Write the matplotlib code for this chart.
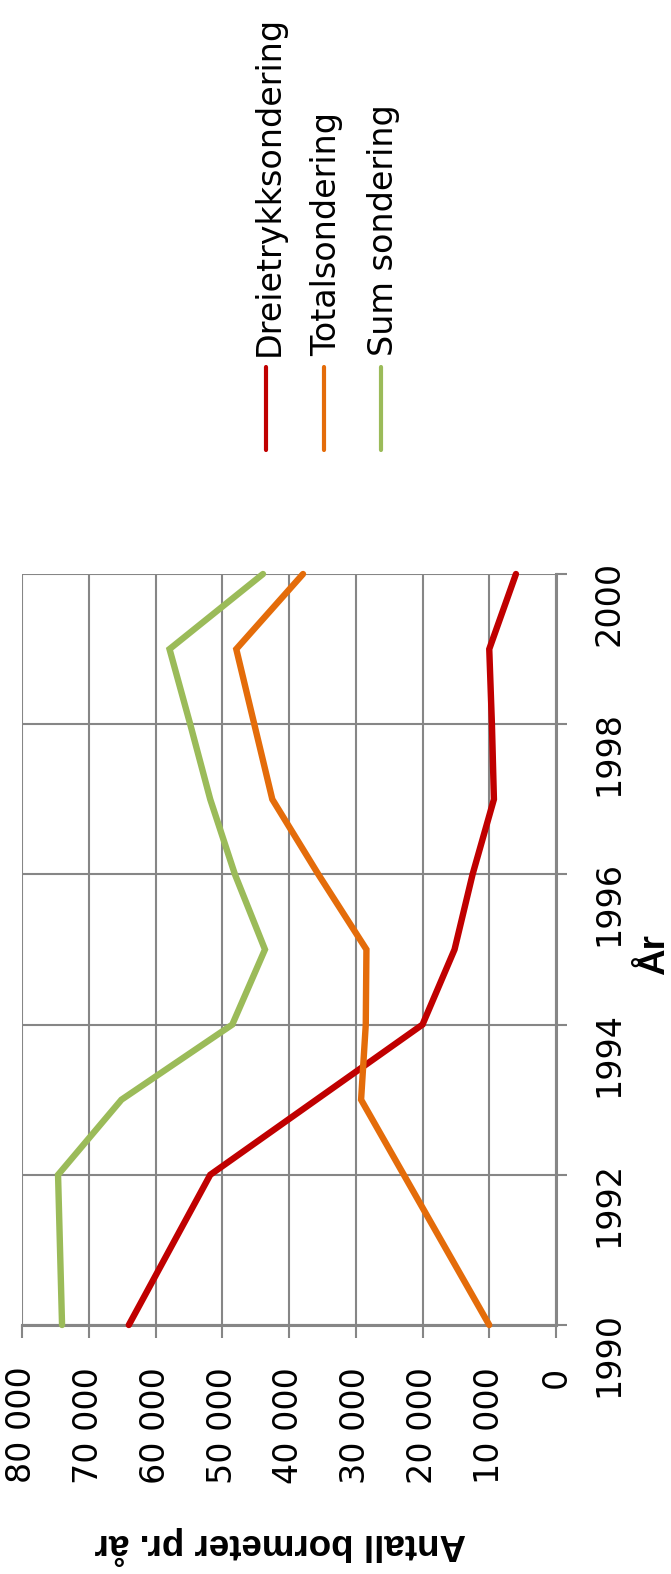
import matplotlib
matplotlib.use('Agg')
import matplotlib.pyplot as plt
from matplotlib.lines import Line2D

# data (year on the vertical axis, value on the horizontal axis; chart is turned on its side)
years = [1990, 1991, 1992, 1993, 1994, 1995, 1996, 1997, 1998, 1999, 2000]
dreietrykk = [64000, 57900, 51800, 35900, 20000, 15200, 12500, 9300, 9600, 10000, 6000]
totalsond = [10000, 16400, 22800, 29200, 28500, 28400, 35600, 42500, 45200, 47900, 37900]
sumsond = [74000, 74300, 74600, 65100, 48500, 43600, 48100, 51800, 54800, 57900, 43900]

series = ['Dreietrykksondering', 'Totalsondering', 'Sum sondering']
colors = ['#C00000', '#E46C0A', '#9BBB59']
value_ticks = [0, 10000, 20000, 30000, 40000, 50000, 60000, 70000, 80000]
year_ticks = [1990, 1992, 1994, 1996, 1998, 2000]

W, H = 671, 1574
def fx(x):
    return x / W
def fy(y):
    return 1 - y / H

grey = '#868686'
fig = plt.figure(figsize=(W / 100, H / 100), dpi=100)
ax = fig.add_axes([fx(22), fy(1325), (556 - 22) / W, (1325 - 574) / H])

for vals, c, name in zip([dreietrykk, totalsond, sumsond], colors, series):
    ax.plot(vals, years, color=c, lw=4.6, solid_capstyle='round',
            solid_joinstyle='miter', clip_on=False, label=name, zorder=3)

ax.set_xlim(80000, 0)
ax.set_ylim(1990, 2000)
ax.set_xticks(value_ticks)
ax.set_xticklabels([f'{v:,}'.replace(',', ' ') for v in value_ticks],
                   rotation=90, fontsize=24, family='DejaVu Sans')
ax.yaxis.tick_right()
ax.set_yticks(year_ticks)
ax.set_yticklabels([str(y) for y in year_ticks], rotation=90, fontsize=24,
                   family='DejaVu Sans')
ax.tick_params(axis='x', length=9, width=1.5, color=grey, pad=21)
ax.tick_params(axis='y', length=8, width=1.5, color=grey, pad=18)

ax.grid(True, color=grey, lw=1.5)
ax.set_axisbelow(True)
for s in ['top', 'left']:
    ax.spines[s].set_visible(False)
for s in ['bottom', 'right']:
    ax.spines[s].set_color(grey)
    ax.spines[s].set_linewidth(2.2)

fig.text(fx(655), fy(955), 'År', rotation=90, ha='center', va='center',
         fontsize=26.5, fontweight='bold', family='Liberation Sans')
fig.text(fx(280), fy(1545), 'Antall bormeter pr. år', rotation=180,
         ha='center', va='center', fontsize=26.5, fontweight='bold',
         family='Liberation Sans')

# legend, turned like the rest of the chart
for i, (name, c) in enumerate(zip(series, colors)):
    x = 266 + i * 57.5
    fig.add_artist(Line2D([fx(x), fx(x)], [fy(367), fy(450)], color=c, lw=3,
                          solid_capstyle='round', transform=fig.transFigure))
    fig.text(fx(x + 3), fy(356), name, rotation=90, rotation_mode='anchor',
             ha='left', va='center', fontsize=24, family='DejaVu Sans')

fig.savefig('out.png', dpi=100)
